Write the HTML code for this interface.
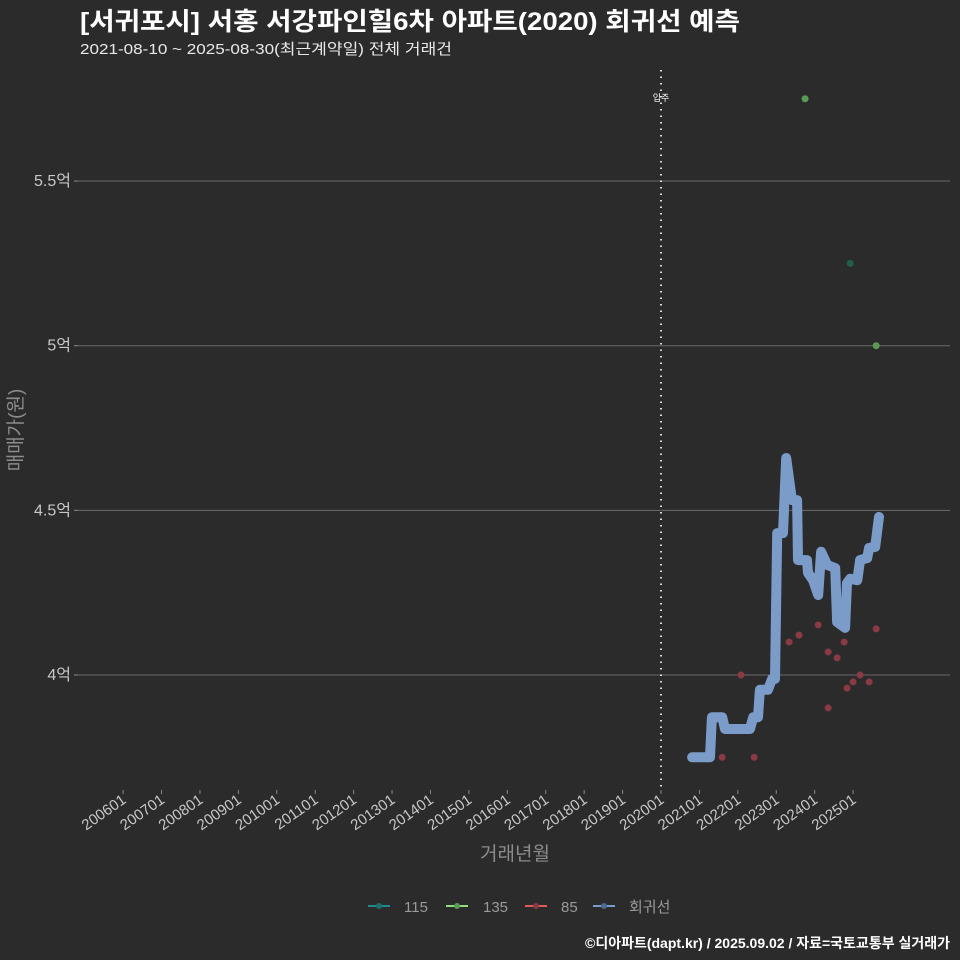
<!DOCTYPE html>
<html><head><meta charset="utf-8">
<style>
html,body{margin:0;padding:0;background:#2b2b2c;}
svg{display:block;font-family:"Liberation Sans","Noto Sans CJK KR",sans-serif;}
</style></head>
<body>
<svg id="chart" width="960" height="960">
<rect width="960" height="960" fill="#2b2b2c"/>
<text x="80" y="30" fill="#ffffff" font-size="25" font-weight="bold" textLength="660" lengthAdjust="spacingAndGlyphs">[서귀포시] 서홍 서강파인힐6차 아파트(2020) 회귀선 예측</text>
<text x="80" y="54" fill="#e8e8e8" font-size="15" textLength="372" lengthAdjust="spacingAndGlyphs">2021-08-10 ~ 2025-08-30(최근계약일) 전체 거래건</text>
<g id="grid"></g><g id="xaxis"></g><g id="marks"></g>
<text transform="translate(22,430) rotate(-90)" text-anchor="middle" fill="#8c8c8c" font-size="19">매매가(원)</text>
<text x="515" y="860" text-anchor="middle" fill="#8c8c8c" font-size="19">거래년월</text>
<g font-size="15" fill="#9a9a9a">
<g><line x1="368" y1="906" x2="390" y2="906" stroke="#1f8a8a" stroke-width="2"/><circle cx="379" cy="906" r="3" fill="#1f6e6e"/><text x="404" y="912">115</text></g>
<g><line x1="446" y1="906" x2="468" y2="906" stroke="#8ee07e" stroke-width="2"/><circle cx="457" cy="906" r="3" fill="#5a9a55"/><text x="483" y="912">135</text></g>
<g><line x1="525" y1="906" x2="547" y2="906" stroke="#e05a5a" stroke-width="2"/><circle cx="536" cy="906" r="3" fill="#8a3a44"/><text x="561" y="912">85</text></g>
<g><line x1="593" y1="906" x2="615" y2="906" stroke="#7b9cc9" stroke-width="2"/><circle cx="604" cy="906" r="3" fill="#4d6a8f"/><text x="629" y="912">회귀선</text></g>
</g>
<text x="950" y="948" text-anchor="end" fill="#ffffff" font-size="14" font-weight="bold">©디아파트(dapt.kr) / 2025.09.02 / 자료=국토교통부 실거래가</text>
</svg>
<script>
// months offset from 2020-01
const yTicks=[4,4.5,5,5.5];
const yTickLabels=["4억","4.5억","5억","5.5억"];
const xTickYears=[2006,2007,2008,2009,2010,2011,2012,2013,2014,2015,2016,2017,2018,2019,2020,2021,2022,2023,2024,2025];
const regMonths=[9.7,15.3,15.9,19.1,20,27.8,28.8,30.3,30.9,33.4,34.7,35.6,36.3,38.1,39.1,40.9,42.5,42.8,45.6,45.9,47.5,49.1,50,51.9,54.4,55,57.5,58.1,59.1,61.3,62.2,64.4,65,66.9,68.1];
const regValues=[3.75,3.75,3.872,3.872,3.836,3.836,3.872,3.872,3.955,3.955,3.988,3.988,4.431,4.431,4.659,4.531,4.531,4.349,4.349,4.31,4.288,4.243,4.374,4.334,4.325,4.161,4.143,4.279,4.292,4.288,4.349,4.355,4.386,4.389,4.48];
const p85Months=[19.1,25,29.1,40,43.1,49.1,52.2,52.2,55,57.2,58.1,60,62.2,65,67.2];
const p85Values=[3.75,4.0,3.75,4.10,4.121,4.152,4.07,3.90,4.052,4.10,3.96,3.979,4.0,3.979,4.14];
const p135Months=[45,67.2];
const p135Values=[5.75,5.0];
const p115Months=[59.1];
const p115Values=[5.25];
const moveInMonth=0;

const NS="http://www.w3.org/2000/svg";
const xs=m=>661+m*38.42/12;
const ys=v=>675-(v-4)*329.3;
function mk(tag,attrs,parent){const e=document.createElementNS(NS,tag);for(const k in attrs)e.setAttribute(k,attrs[k]);parent.appendChild(e);return e;}
const grid=document.getElementById('grid'),xa=document.getElementById('xaxis'),marks=document.getElementById('marks');
yTicks.forEach((v,i)=>{
 const l=mk('line',{x1:78,x2:950,y1:ys(v),y2:ys(v),stroke:'#6a6a6a','stroke-width':1},grid);
 
 
 const t=mk('line',{x1:74,x2:78,y1:ys(v),y2:ys(v),stroke:'#888'},grid);
 
 
 const tx=mk('text',{x:71,y:ys(v)+5,'text-anchor':'end',fill:'#c8c8c8','font-size':16},grid);
 tx.textContent=yTickLabels[i];
 
 
});
xTickYears.forEach(y=>{
 const x=xs((y-2020)*12);
 const t=mk('line',{x1:x,x2:x,y1:790,y2:794,stroke:'#888'},xa);
 
 
 const tx=mk('text',{transform:`translate(${x+4},${802}) rotate(-35)`,'text-anchor':'end',fill:'#c8c8c8','font-size':15},xa);
 tx.textContent=y+"01";
 
 
});
const vl=mk('line',{x1:xs(moveInMonth),x2:xs(moveInMonth),y1:70,y2:790,stroke:'#dddddd','stroke-width':2,'stroke-dasharray':'1.5 5'},marks);


const vt=mk('text',{x:xs(moveInMonth),y:101,'text-anchor':'middle',fill:'#fff','font-size':9},marks);
vt.textContent='입주';


function pts(ms,vs,fill,name){ms.forEach((m,i)=>{const c=mk('circle',{cx:xs(m),cy:ys(vs[i]),r:3.5,fill:fill},marks);
 
 });}
pts(p85Months,p85Values,'#8a3a44','point-85');
const d=regMonths.map((m,i)=>(i?'L':'M')+xs(m).toFixed(1)+' '+ys(regValues[i]).toFixed(1)).join(' ');
const rl=mk('path',{d:d,fill:'none',stroke:'#7b9cc9','stroke-width':10,'stroke-linejoin':'round','stroke-linecap':'round'},marks);


pts(p135Months,p135Values,'#5a9a55','point-135');
pts(p115Months,p115Values,'#1f5e4a','point-115');
</script>
</body></html>
